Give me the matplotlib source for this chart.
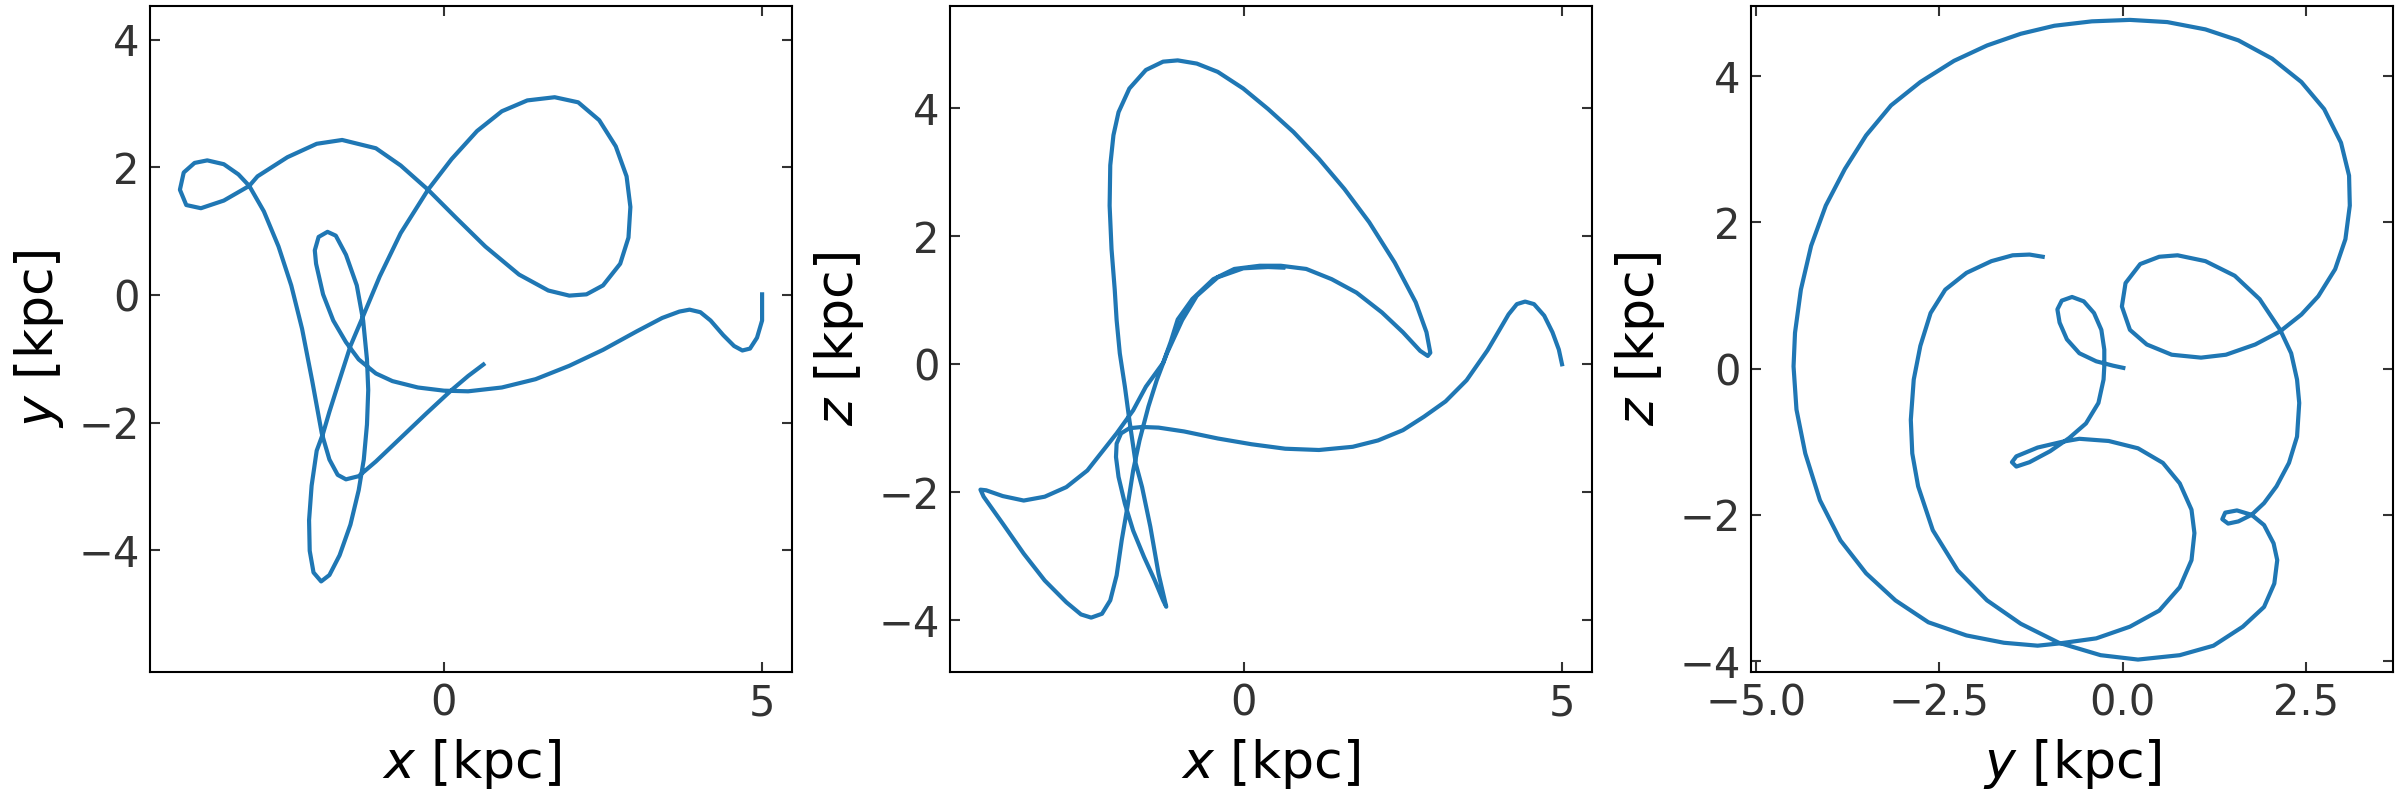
import numpy as np
import matplotlib
matplotlib.use("Agg")
import matplotlib.pyplot as plt


# orbit projections (kpc), in time order
orbit_xy = [
    (5.00, 0.01), (5.00, -0.40), (4.92, -0.67), (4.81, -0.84), (4.69, -0.87), (4.56, -0.80),
    (4.39, -0.63), (4.19, -0.40), (4.03, -0.27), (3.86, -0.23), (3.70, -0.26), (3.43, -0.36),
    (3.03, -0.57), (2.50, -0.86), (1.97, -1.11), (1.44, -1.32), (0.91, -1.45), (0.38, -1.51),
    (0.00, -1.50), (-0.41, -1.45), (-0.81, -1.35), (-1.07, -1.23), (-1.34, -1.01), (-1.54, -0.74),
    (-1.74, -0.40), (-1.90, 0.01), (-2.01, 0.49), (-2.03, 0.70), (-1.97, 0.91), (-1.83, 0.99),
    (-1.70, 0.93), (-1.54, 0.63), (-1.37, 0.15), (-1.27, -0.40), (-1.21, -1.01), (-1.19, -1.49),
    (-1.21, -2.03), (-1.26, -2.58), (-1.34, -3.06), (-1.47, -3.60), (-1.64, -4.08), (-1.80, -4.39),
    (-1.93, -4.49), (-2.05, -4.35), (-2.11, -4.01), (-2.12, -3.53), (-2.08, -2.99), (-2.00, -2.44),
    (-1.90, -2.17), (-1.80, -1.83), (-1.67, -1.42), (-1.47, -0.80), (-1.27, -0.33), (-1.01, 0.29),
    (-0.68, 0.97), (-0.25, 1.65), (0.12, 2.13), (0.52, 2.57), (0.91, 2.88), (1.31, 3.05),
    (1.74, 3.10), (2.11, 3.02), (2.44, 2.74), (2.70, 2.33), (2.87, 1.86), (2.93, 1.38),
    (2.90, 0.90), (2.77, 0.49), (2.50, 0.15), (2.24, 0.01), (1.97, -0.01), (1.64, 0.07),
    (1.18, 0.32), (0.65, 0.76), (0.19, 1.21), (-0.25, 1.65), (-0.68, 2.03), (-1.07, 2.30),
    (-1.60, 2.43), (-2.00, 2.37), (-2.46, 2.16), (-2.93, 1.86), (-3.06, 1.71), (-3.46, 1.48),
    (-3.82, 1.36), (-4.05, 1.41), (-4.15, 1.65), (-4.09, 1.92), (-3.92, 2.07), (-3.72, 2.11),
    (-3.46, 2.05), (-3.23, 1.89), (-3.06, 1.71), (-2.83, 1.31), (-2.60, 0.76), (-2.40, 0.15),
    (-2.23, -0.53), (-2.07, -1.35), (-1.92, -2.17), (-1.80, -2.58), (-1.67, -2.82), (-1.54, -2.89),
    (-1.34, -2.84), (-1.07, -2.61), (-0.68, -2.24), (-0.28, -1.86), (0.12, -1.49), (0.38, -1.27),
    (0.62, -1.09),
]

orbit_xz = [
    (5.00, 0.00), (4.95, 0.23), (4.85, 0.50), (4.72, 0.76), (4.56, 0.94), (4.42, 0.98),
    (4.29, 0.94), (4.16, 0.78), (3.96, 0.44), (3.83, 0.22), (3.50, -0.25), (3.17, -0.58),
    (2.83, -0.82), (2.50, -1.03), (2.11, -1.19), (1.71, -1.29), (1.18, -1.34), (0.65, -1.32),
    (0.12, -1.25), (-0.41, -1.16), (-0.94, -1.05), (-1.34, -0.99), (-1.60, -0.98), (-1.80, -1.00),
    (-1.93, -1.08), (-2.00, -1.24), (-2.01, -1.45), (-1.97, -1.76), (-1.87, -2.18), (-1.74, -2.60),
    (-1.57, -3.01), (-1.40, -3.38), (-1.27, -3.69), (-1.22, -3.79), (-1.34, -3.28), (-1.47, -2.54),
    (-1.60, -1.92), (-1.70, -1.55), (-1.80, -0.87), (-1.87, -0.35), (-1.95, 0.17), (-2.00, 0.69),
    (-2.03, 1.17), (-2.08, 1.80), (-2.11, 2.48), (-2.10, 3.11), (-2.05, 3.58), (-1.97, 3.94),
    (-1.80, 4.31), (-1.54, 4.60), (-1.27, 4.73), (-1.04, 4.75), (-0.74, 4.70), (-0.41, 4.57),
    (-0.01, 4.31), (0.38, 3.99), (0.78, 3.63), (1.18, 3.21), (1.58, 2.74), (1.97, 2.22),
    (2.37, 1.59), (2.70, 0.97), (2.87, 0.50), (2.93, 0.18), (2.89, 0.13), (2.77, 0.21),
    (2.50, 0.50), (2.17, 0.81), (1.77, 1.12), (1.38, 1.33), (0.98, 1.49), (0.58, 1.54),
    (0.25, 1.54), (-0.15, 1.49), (-0.48, 1.33), (-0.81, 1.02), (-1.04, 0.70), (-1.15, 0.35),
    (-1.27, 0.02), (-1.54, -0.35), (-1.74, -0.72), (-2.00, -1.08), (-2.23, -1.37), (-2.46, -1.66),
    (-2.79, -1.92), (-3.13, -2.07), (-3.46, -2.13), (-3.79, -2.06), (-4.05, -1.97), (-4.14, -1.96),
    (-4.09, -2.07), (-3.79, -2.49), (-3.46, -2.96), (-3.13, -3.38), (-2.79, -3.72), (-2.56, -3.91),
    (-2.40, -3.96), (-2.23, -3.90), (-2.10, -3.69), (-2.00, -3.30), (-1.92, -2.75), (-1.83, -2.23),
    (-1.74, -1.66), (-1.64, -1.19), (-1.50, -0.66), (-1.37, -0.25), (-1.21, 0.17), (-0.97, 0.69),
    (-0.74, 1.07), (-0.41, 1.36), (-0.01, 1.50), (0.38, 1.52), (0.62, 1.51),
]

orbit_yz = [
    (0.01, 0.01), (-0.13, 0.04), (-0.36, 0.10), (-0.59, 0.21), (-0.76, 0.40), (-0.86, 0.63),
    (-0.89, 0.81), (-0.83, 0.93), (-0.69, 0.98), (-0.53, 0.92), (-0.39, 0.76), (-0.29, 0.53),
    (-0.25, 0.26), (-0.25, 0.03), (-0.26, -0.15), (-0.33, -0.47), (-0.50, -0.75), (-0.73, -0.95),
    (-0.99, -1.13), (-1.27, -1.28), (-1.45, -1.34), (-1.51, -1.28), (-1.45, -1.20), (-1.16, -1.08),
    (-0.82, -1.00), (-0.59, -0.96), (-0.19, -0.99), (0.21, -1.09), (0.55, -1.29), (0.78, -1.57),
    (0.94, -1.93), (0.98, -2.25), (0.94, -2.62), (0.78, -2.99), (0.50, -3.31), (0.10, -3.53),
    (-0.36, -3.69), (-0.87, -3.76), (-1.16, -3.79), (-1.62, -3.75), (-2.13, -3.65), (-2.65, -3.47),
    (-3.10, -3.17), (-3.50, -2.80), (-3.85, -2.35), (-4.13, -1.80), (-4.33, -1.16), (-4.45, -0.56),
    (-4.49, 0.03), (-4.47, 0.49), (-4.39, 1.08), (-4.25, 1.68), (-4.05, 2.23), (-3.79, 2.73),
    (-3.50, 3.19), (-3.16, 3.60), (-2.76, 3.92), (-2.30, 4.21), (-1.85, 4.42), (-1.39, 4.58),
    (-0.93, 4.69), (-0.42, 4.75), (0.10, 4.77), (0.61, 4.74), (1.13, 4.64), (1.58, 4.49),
    (2.04, 4.24), (2.44, 3.92), (2.75, 3.55), (2.98, 3.09), (3.09, 2.64), (3.10, 2.23),
    (3.04, 1.77), (2.90, 1.36), (2.67, 0.99), (2.44, 0.74), (2.15, 0.51), (1.81, 0.33),
    (1.41, 0.19), (1.07, 0.15), (0.67, 0.19), (0.33, 0.33), (0.10, 0.53), (-0.01, 0.85),
    (0.04, 1.17), (0.24, 1.43), (0.50, 1.53), (0.75, 1.55), (1.13, 1.47), (1.53, 1.27),
    (1.87, 0.95), (2.15, 0.53), (2.30, 0.21), (2.38, -0.15), (2.41, -0.47), (2.38, -0.93),
    (2.27, -1.29), (2.10, -1.61), (1.93, -1.84), (1.76, -2.00), (1.58, -2.09), (1.44, -2.12),
    (1.36, -2.06), (1.40, -1.97), (1.56, -1.94), (1.76, -2.00), (1.93, -2.14), (2.06, -2.39),
    (2.11, -2.62), (2.07, -2.94), (1.93, -3.26), (1.64, -3.53), (1.24, -3.79), (0.78, -3.92),
    (0.21, -3.98), (-0.30, -3.92), (-0.87, -3.75), (-1.39, -3.49), (-1.85, -3.17), (-2.25, -2.76),
    (-2.59, -2.21), (-2.79, -1.61), (-2.87, -1.16), (-2.89, -0.70), (-2.85, -0.15), (-2.76, 0.31),
    (-2.62, 0.76), (-2.42, 1.08), (-2.13, 1.31), (-1.79, 1.47), (-1.50, 1.55), (-1.27, 1.56),
    (-1.09, 1.53),
]

panel_labels = [("x", "y"), ("x", "z"), ("y", "z")]
panel_xlims = [(-4.62, 5.47), (-4.62, 5.47), (-5.07, 3.69)]
panel_ylims = [(-5.91, 4.53), (-4.81, 5.60), (-4.15, 4.96)]
panel_xticks = [[0, 5], [0, 5], [-5.0, -2.5, 0.0, 2.5]]
yticks = [-4, -2, 0, 2, 4]

TICK_COLOR = "#333333"


def plot_panel(ax, path, xlab, ylab, xlim, ylim, xticks):
    pts = np.array(path)
    ax.plot(pts[:, 0], pts[:, 1], color="#1f77b4", lw=2.0)
    ax.set_xlim(*xlim)
    ax.set_ylim(*ylim)
    ax.set_xticks(xticks)
    ax.set_yticks(yticks)
    ax.set_xlabel("$%s$ [kpc]" % xlab, fontsize=25, labelpad=6)
    ax.set_ylabel("$%s$ [kpc]" % ylab, fontsize=25, labelpad=6)
    ax.tick_params(direction="in", top=True, right=True, length=4.8, width=1.0,
                   labelsize=20, pad=5, color=TICK_COLOR, labelcolor=TICK_COLOR)
    for sp in ax.spines.values():
        sp.set_linewidth(1.0)


fig = plt.figure(figsize=(16, 16 / 3), dpi=150)
paths = [orbit_xy, orbit_xz, orbit_yz]
lefts = [0.0625, 0.3958, 0.7296]
for i in range(3):
    ax = fig.add_axes([lefts[i], 0.16, 0.2675, 0.8325])
    plot_panel(ax, paths[i], panel_labels[i][0], panel_labels[i][1],
               panel_xlims[i], panel_ylims[i], panel_xticks[i])

fig.savefig("out.png", dpi=150)
